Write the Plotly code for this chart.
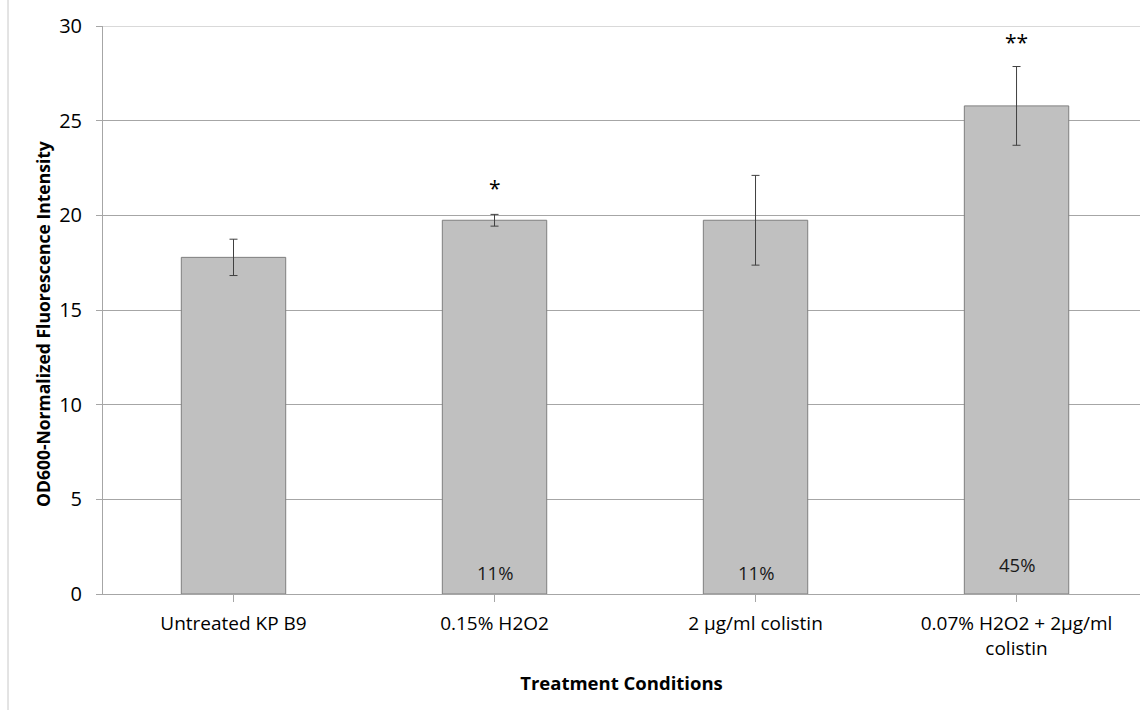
import plotly.graph_objects as go

# Treatment groups and measured means
categories = ["Untreated KP B9", "0.15% H2O2", "2 µg/ml colistin",
              "0.07% H2O2 + 2µg/ml<br>colistin"]
means = [17.78, 19.74, 19.74, 25.78]
errors = [0.96, 0.31, 2.37, 2.08]

# Increase over untreated, and significance marks
pct_labels = ["", "11%", "11%", "45%"]
pct_y = [1.16, 1.16, 1.16, 1.58]
sig_labels = ["", "*", "", "**"]
sig_y = [0, 21.45, 0, 29.15]

FONT = "Open Sans"
x_idx = list(range(len(categories)))

# plot-area geometry in pixels
PLOT_W, PLOT_H = 1037, 568

fig = go.Figure()
fig.add_trace(go.Bar(
    x=x_idx, y=means, width=0.4,
    marker=dict(color="#C0C0C0", line=dict(color="#7F7F7F", width=1)),
    error_y=dict(type="data", array=errors, visible=True,
                 color="#404040", thickness=1, width=4),
    showlegend=False, hoverinfo="skip",
))

annotations = []
for i, (t, y) in enumerate(zip(pct_labels, pct_y)):
    if t:
        annotations.append(dict(x=i, y=y, text=t, showarrow=False,
                                font=dict(family=FONT, size=18.5, color="#1a1a1a")))
for i, (t, y) in enumerate(zip(sig_labels, sig_y)):
    if t:
        annotations.append(dict(x=i, y=y, text=t, showarrow=False,
                                font=dict(family=FONT, size=21, color="#000000")))

# vertical axis title
annotations.append(dict(
    xref="paper", yref="paper", x=-60 / PLOT_W, y=(594 - 324) / PLOT_H,
    text="<b>OD600-Normalized Fluorescence Intensity</b>", textangle=-90,
    showarrow=False, xanchor="center", yanchor="middle",
    font=dict(family=FONT, size=17.5, color="#000000"),
))

fig.update_layout(
    width=1140, height=710,
    margin=dict(l=103, r=0, t=26, b=116),
    paper_bgcolor="white", plot_bgcolor="white",
    font=dict(family=FONT, size=19, color="#000000"),
    bargap=0.6,
    annotations=annotations,
    xaxis=dict(
        tickmode="array", tickvals=x_idx, ticktext=categories,
        range=[-0.5, 3.473],
        showline=True, linecolor="#A6A6A6", linewidth=1,
        ticks="outside", ticklen=7, tickcolor="#A6A6A6", tickson="boundaries",
        showgrid=False, zeroline=False,
        tickfont=dict(family=FONT, size=19),
        ticklabelstandoff=5,
        title=dict(text="<b>Treatment Conditions</b>", standoff=17,
                   font=dict(family=FONT, size=18.5)),
    ),
    yaxis=dict(
        range=[0, 30], tickvals=[0, 5, 10, 15, 20, 25, 30],
        showline=True, linecolor="#A6A6A6", linewidth=1,
        ticks="outside", ticklen=6, tickcolor="#A6A6A6",
        showgrid=True, gridcolor="#A6A6A6", gridwidth=1,
        zeroline=False,
        tickfont=dict(family=FONT, size=20),
        ticklabelstandoff=10,
    ),
    shapes=[
        # lighter top rule at 30
        dict(type="line", xref="paper", yref="y", x0=0, x1=1, y0=30, y1=30,
             line=dict(color="#D9D9D9", width=2)),
        # chart-area border on the left
        dict(type="line", xref="paper", yref="paper",
             x0=-95 / PLOT_W, x1=-95 / PLOT_W, y0=-116 / PLOT_H, y1=26 / PLOT_H + 1,
             line=dict(color="#C8C8C8", width=1)),
    ],
)

fig.write_html("out.html")
